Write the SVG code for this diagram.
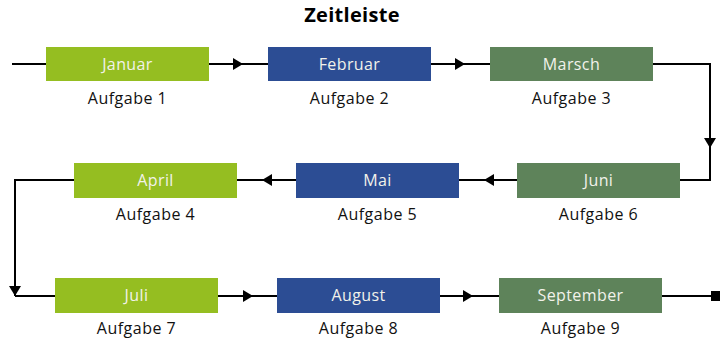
<svg xmlns="http://www.w3.org/2000/svg" width="723" height="338" viewBox="0 0 723 338">
<style>
.box-lg{fill:#95be21}
.box-bl{fill:#2c4d94}
.box-dg{fill:#5e835a}
.lbl{font-family:"Open Sans","Liberation Sans",sans-serif;font-size:16px;letter-spacing:0.4px;fill:#f2f2ea;text-anchor:middle}
.sub{font-family:"Open Sans","Liberation Sans",sans-serif;font-size:16px;letter-spacing:0.5px;fill:#111;text-anchor:middle}
.title{font-family:"Open Sans","Liberation Sans",sans-serif;font-size:20px;font-weight:bold;letter-spacing:0.3px;fill:#000;text-anchor:middle}
.conn{fill:none;stroke:#000;stroke-width:2}
</style>
<defs>
<marker id="arr" markerWidth="12" markerHeight="12" refX="11" refY="6" orient="auto" markerUnits="userSpaceOnUse">
<path d="M1,0 L11,6 L1,12 Z" fill="#000"/>
</marker>
</defs>
<rect width="723" height="338" fill="#fff"/>
<text class="title" x="352" y="22">Zeitleiste</text>
<g id="connectors">
<line class="conn" x1="12" y1="64" x2="46" y2="64"/>
<line class="conn" x1="209" y1="64" x2="243" y2="64" marker-end="url(#arr)"/>
<line class="conn" x1="243" y1="64" x2="268" y2="64"/>
<line class="conn" x1="431" y1="64" x2="465" y2="64" marker-end="url(#arr)"/>
<line class="conn" x1="465" y1="64" x2="490" y2="64"/>
<polyline class="conn" points="653,64 710,64 710,148" marker-end="url(#arr)"/>
<polyline class="conn" points="710,148 710,180 680,180"/>
<line class="conn" x1="517" y1="180" x2="484" y2="180" marker-end="url(#arr)"/>
<line class="conn" x1="484" y1="180" x2="459" y2="180"/>
<line class="conn" x1="296" y1="180" x2="262" y2="180" marker-end="url(#arr)"/>
<line class="conn" x1="262" y1="180" x2="237" y2="180"/>
<polyline class="conn" points="74,180 15,180 15,296" marker-end="url(#arr)"/>
<line class="conn" x1="15" y1="296" x2="55" y2="296"/>
<line class="conn" x1="218" y1="296" x2="253" y2="296" marker-end="url(#arr)"/>
<line class="conn" x1="253" y1="296" x2="277" y2="296"/>
<line class="conn" x1="440" y1="296" x2="473" y2="296" marker-end="url(#arr)"/>
<line class="conn" x1="473" y1="296" x2="499" y2="296"/>
<line class="conn" x1="662" y1="296" x2="712" y2="296"/>
<rect x="711" y="291" width="9" height="10" fill="#000"/>
</g>
<g id="januar"><rect class="box-lg" x="46" y="47" width="163" height="34"/><text class="lbl" x="127.5" y="70">Januar</text><text class="sub" x="127.5" y="104">Aufgabe 1</text></g>
<g id="februar"><rect class="box-bl" x="268" y="47" width="163" height="34"/><text class="lbl" x="349.5" y="70">Februar</text><text class="sub" x="349.5" y="104">Aufgabe 2</text></g>
<g id="marsch"><rect class="box-dg" x="490" y="47" width="163" height="34"/><text class="lbl" x="571.5" y="70">Marsch</text><text class="sub" x="571.5" y="104">Aufgabe 3</text></g>
<g id="april"><rect class="box-lg" x="74" y="163" width="163" height="35"/><text class="lbl" x="155.5" y="186">April</text><text class="sub" x="155.5" y="220">Aufgabe 4</text></g>
<g id="mai"><rect class="box-bl" x="296" y="163" width="163" height="35"/><text class="lbl" x="377.5" y="186">Mai</text><text class="sub" x="377.5" y="220">Aufgabe 5</text></g>
<g id="juni"><rect class="box-dg" x="517" y="163" width="163" height="35"/><text class="lbl" x="598.5" y="186">Juni</text><text class="sub" x="598.5" y="220">Aufgabe 6</text></g>
<g id="juli"><rect class="box-lg" x="55" y="278" width="163" height="35"/><text class="lbl" x="136.5" y="301">Juli</text><text class="sub" x="136.5" y="334">Aufgabe 7</text></g>
<g id="august"><rect class="box-bl" x="277" y="278" width="163" height="35"/><text class="lbl" x="358.5" y="301">August</text><text class="sub" x="358.5" y="334">Aufgabe 8</text></g>
<g id="september"><rect class="box-dg" x="499" y="278" width="163" height="35"/><text class="lbl" x="580.5" y="301">September</text><text class="sub" x="580.5" y="334">Aufgabe 9</text></g>
</svg>
